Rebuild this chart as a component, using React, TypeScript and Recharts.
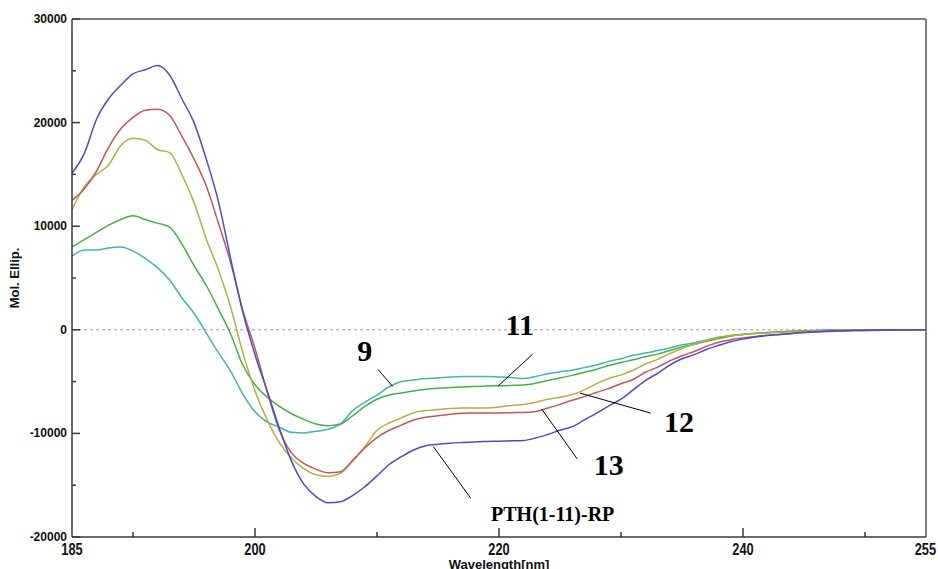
import {
  LineChart,
  Line,
  XAxis,
  YAxis,
  ReferenceLine,
  ReferenceDot,
} from "recharts";

const wavelengths = [
  185, 186, 187, 188, 189, 190, 191, 192, 193, 194, 195, 196, 197, 198, 199,
  200, 201, 202, 203, 204, 205, 206, 207, 208, 209, 210, 211, 212, 213, 214,
  215, 216, 217, 218, 219, 220, 221, 222, 223, 224, 225, 226, 227, 228, 229,
  230, 231, 232, 233, 234, 235, 236, 237, 238, 239, 240, 241, 242, 243, 244,
  245, 246, 247, 248, 249, 250, 251, 252, 253, 254, 255,
];

// PTH(1-11)-RP (blue)
const pth = [
  15100, 17000, 20300, 22300, 23600, 24700, 25100, 25500, 24600, 22300, 20000, 16500, 12400, 6900, 1700,
  -2400, -5900, -9500, -12700, -14900, -16100, -16700, -16600, -16000, -15150, -14100, -13000, -12250, -11600, -11200,
  -11050, -10950, -10880, -10820, -10780, -10750, -10720, -10690, -10450, -10100, -9700, -9350, -8700, -8050, -7350,
  -6700, -5800, -4900, -4200, -3400, -2800, -2400, -1900, -1500, -1150, -900, -700, -550, -450, -350,
  -250, -180, -120, -80, -50, -30, -10, 0, 0, 0, 0,
];

// 13 (red)
const s13 = [
  12500, 13600, 15300, 17600, 19400, 20500, 21200, 21300, 20700, 18700, 16500, 13900, 10300, 6500, 1900,
  -1800, -6000, -9700, -11900, -12900, -13450, -13800, -13700, -12600, -11400, -10400, -9700, -9200, -8700, -8450,
  -8300, -8150, -8050, -8040, -8040, -8030, -8000, -7980, -7880, -7550, -7200, -6800, -6450, -6050, -5650,
  -5200, -4800, -4100, -3600, -3000, -2500, -2100, -1600, -1200, -950, -800, -650, -520, -450, -350,
  -270, -220, -170, -130, -100, -80, -60, -50, -30, -10, 0,
];

// 12 (olive)
const s12 = [
  11600, 13800, 15000, 15900, 17800, 18500, 18300, 17400, 17100, 15000, 12300, 8800, 5800, 2200, -2200,
  -5900, -8700, -10900, -12400, -13400, -14000, -14150, -13850, -12700, -11300, -9700, -9000, -8500, -8000, -7800,
  -7700, -7600, -7560, -7560, -7550, -7450, -7300, -7200, -7000, -6700, -6500, -6250, -5800, -5200, -4700,
  -4350, -3900, -3300, -2850, -2300, -1800, -1400, -1000, -700, -550, -450, -350, -300, -250, -200,
  -150, -100, -80, -50, -30, -10, 0, 0, 0, 0, 0,
];

// 11 (green)
const s11 = [
  8000, 8700, 9400, 10100, 10650, 11000, 10650, 10300, 9900, 8300, 6200, 4300, 2000, -400, -3400,
  -5300, -6500, -7400, -8100, -8650, -9100, -9270, -9100, -8300, -7400, -6700, -6300, -6100, -5900, -5750,
  -5650, -5580, -5520, -5470, -5430, -5400, -5370, -5320, -5150, -4900, -4650, -4400, -4100, -3800, -3450,
  -3150, -2900, -2600, -2350, -2000, -1650, -1400, -1100, -850, -600, -450, -350, -280, -200, -150,
  -100, -70, -40, -20, 0, 0, 0, 0, 0, 0, 0,
];

// 9 (cyan)
const s9 = [
  7100, 7700, 7700, 7900, 8000, 7600, 6900, 6000, 4800, 3100, 1600, -300, -2200, -4000, -6200,
  -7900, -8900, -9400, -9900, -9950, -9800, -9600, -9100, -7800, -7000, -6300, -5500, -5000, -4850, -4700,
  -4650, -4550, -4500, -4500, -4500, -4550, -4600, -4700, -4500, -4250, -4050, -3900, -3650, -3400, -3050,
  -2800, -2450, -2250, -2000, -1750, -1450, -1250, -1000, -750, -550, -420, -330, -260, -200, -150,
  -100, -70, -40, -20, 0, 0, 0, 0, 0, 0, 0,
];

const xTicks = [185, 190, 200, 210, 220, 230, 240, 250, 255];
const xLabelled = [185, 200, 220, 240, 255];
const xMajor = [200, 220, 240];
const yTicks = [-20000, -15000, -10000, -5000, 0, 5000, 10000, 15000, 20000, 25000, 30000];

// callout text and leader lines, in data units
const calloutNames = ["9", "11", "12", "13", "PTH(1-11)-RP"];
const calloutTextX = [209.0, 221.7, 234.75, 229.0, 224.4];
const calloutTextY = [-2030, 480, -8830, -13030, -17810];
const leaderFrom = [
  [210.1, -3860],
  [222.76, -2350],
  [232.43, -8040],
  [226.42, -12480],
  [217.68, -16250],
];
const leaderTo = [
  [211.29, -5470],
  [219.94, -5410],
  [226.64, -6110],
  [223.5, -7650],
  [214.61, -11260],
];

const data = wavelengths.map((w, i) => ({
  w,
  pth: pth[i],
  s13: s13[i],
  s12: s12[i],
  s11: s11[i],
  s9: s9[i],
}));

const AXIS = "#3a3a3a";

function YTick(props: any) {
  const { x, y, payload } = props;
  const v = payload.value;
  const major = v % 10000 === 0;
  return (
    <g>
      <line x1={x} x2={x + (major ? 8 : 4)} y1={y} y2={y} stroke={AXIS} strokeWidth={1.5} />
      {major && (
        <text
          x={x - 5}
          y={y}
          dy={4}
          textAnchor="end"
          fontSize={12}
          fontWeight="bold"
          fontFamily="'Liberation Sans', Arial, sans-serif"
          fill="#111"
        >
          {v}
        </text>
      )}
    </g>
  );
}

function XTick(props: any) {
  const { x, y, payload } = props;
  const v = payload.value;
  const len = xMajor.includes(v) ? 9 : v === 185 || v === 255 ? 0 : 5;
  // condensed look of the original software's tick font
  const anchor = v === 255 ? "end" : "middle";
  const shift = v === 255 ? 10 : 0;
  return (
    <g>
      {len > 0 && <line x1={x} x2={x} y1={y} y2={y - len} stroke={AXIS} strokeWidth={1.5} />}
      {xLabelled.includes(v) && (
        <g transform={`translate(${x + shift},${y + 18}) scale(0.8,1)`}>
          <text
            x={0}
            y={0}
            textAnchor={anchor}
            fontSize={16}
            fontWeight="bold"
            fontFamily="'Liberation Sans', Arial, sans-serif"
            fill="#111"
          >
            {v}
          </text>
        </g>
      )}
    </g>
  );
}

export default function App() {
  return (
    <div style={{ position: "absolute", left: 0, top: 0, width: 938, height: 569, background: "#fff" }}>
      <LineChart width={938} height={569} data={data} margin={{ top: 19, right: 12, bottom: 0, left: 0 }}>
        <XAxis
          dataKey="w"
          type="number"
          domain={[185, 255]}
          ticks={xTicks}
          allowDataOverflow
          height={32}
          tickSize={0}
          tickMargin={0}
          tickLine={false}
          tick={XTick}
          stroke={AXIS}
          strokeWidth={1.5}
          label={{
            value: "Wavelength[nm]",
            position: "insideBottom",
            offset: 0,
            fontSize: 13,
            fontWeight: "bold",
            fontFamily: "'Liberation Sans', Arial, sans-serif",
            fill: "#111",
          }}
        />
        <YAxis
          type="number"
          domain={[-20000, 30000]}
          ticks={yTicks}
          allowDataOverflow
          width={72}
          tickSize={0}
          tickMargin={0}
          tickLine={false}
          tick={YTick}
          stroke={AXIS}
          strokeWidth={1.5}
          label={{
            value: "Mol. Ellip.",
            angle: -90,
            position: "insideLeft",
            offset: 14,
            fontSize: 13,
            fontWeight: "bold",
            fontFamily: "'Liberation Sans', Arial, sans-serif",
            fill: "#111",
            style: { textAnchor: "middle" },
          }}
        />
        <ReferenceLine y={30000} stroke="#808080" strokeWidth={2} />
        <ReferenceLine x={255} stroke="#808080" strokeWidth={2} />
        <ReferenceLine y={0} stroke="#9a9a9a" strokeDasharray="3 3" strokeWidth={1} />

        <Line type="monotone" dataKey="s9" stroke="#45b2b4" strokeWidth={1.5} dot={false} isAnimationActive={false} />
        <Line type="monotone" dataKey="s11" stroke="#46b046" strokeWidth={1.5} dot={false} isAnimationActive={false} />
        <Line type="monotone" dataKey="s12" stroke="#b4b048" strokeWidth={1.5} dot={false} isAnimationActive={false} />
        <Line type="monotone" dataKey="s13" stroke="#c05858" strokeWidth={1.5} dot={false} isAnimationActive={false} />
        <Line type="monotone" dataKey="pth" stroke="#4c4cc6" strokeWidth={1.5} dot={false} isAnimationActive={false} />

        {calloutNames.map((name, i) => (
          <ReferenceLine
            key={"l" + name}
            segment={[
              { x: leaderFrom[i][0], y: leaderFrom[i][1] },
              { x: leaderTo[i][0], y: leaderTo[i][1] },
            ]}
            stroke="#000"
            strokeWidth={1}
          />
        ))}
        {calloutNames.map((name, i) => (
          <ReferenceDot
            key={"t" + name}
            x={calloutTextX[i]}
            y={calloutTextY[i]}
            r={0}
            fill="none"
            stroke="none"
            label={{
              value: name,
              position: "center",
              fontSize: i === 4 ? 20 : 30,
              fontWeight: "bold",
              fontFamily: "'Liberation Serif', 'Times New Roman', serif",
              fill: "#000",
            }}
          />
        ))}
      </LineChart>
    </div>
  );
}
